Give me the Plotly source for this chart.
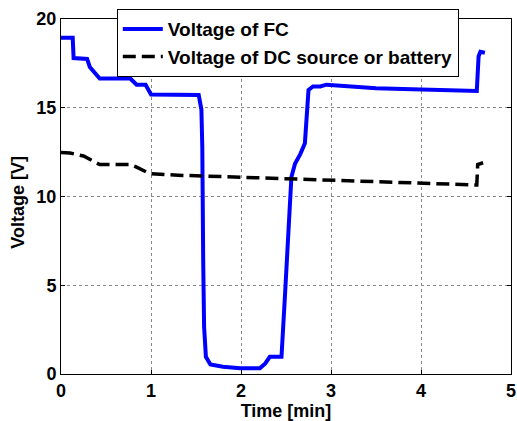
import plotly.graph_objects as go

# Voltage of FC (blue)
fc_t = [0.0, 0.13, 0.14, 0.22, 0.29, 0.32, 0.38, 0.43, 0.60, 0.77, 0.84, 0.94, 1.00, 1.20, 1.40, 1.53,
        1.56, 1.57, 1.58, 1.59, 1.61, 1.66, 1.80, 1.99, 2.21, 2.27, 2.32, 2.45, 2.49, 2.53, 2.56, 2.60,
        2.66, 2.71, 2.73, 2.75, 2.80, 2.88, 2.95, 3.2, 3.5, 3.8, 4.1, 4.4, 4.62, 4.64, 4.66, 4.71]
fc_v = [18.95, 18.95, 17.8, 17.75, 17.75, 17.3, 16.9, 16.65, 16.65, 16.65, 16.3, 16.3, 15.75, 15.75, 15.72, 15.72,
        14.9, 12.8, 6.4, 2.66, 0.97, 0.54, 0.41, 0.32, 0.32, 0.6, 0.97, 0.97, 4.55, 8.3, 11.1, 11.85,
        12.4, 13.0, 14.9, 16.0, 16.2, 16.2, 16.3, 16.2, 16.1, 16.05, 16.0, 15.98, 15.95, 17.9, 18.15, 18.1]

# Voltage of DC source or battery (black dashed)
dc_t = [0.0, 0.10, 0.25, 0.32, 0.43, 0.60, 0.77, 0.84, 0.99, 1.3, 1.6, 1.99, 2.43, 2.99, 3.54, 4.1, 4.62, 4.63, 4.69]
dc_v = [12.48, 12.45, 12.28, 12.1, 11.8, 11.8, 11.8, 11.65, 11.28, 11.2, 11.15, 11.1, 11.0, 10.95, 10.85, 10.75, 10.65, 11.8, 11.9]

x_ticks = [0, 1, 2, 3, 4, 5]
y_ticks = [0, 5, 10, 15, 20]

fig = go.Figure()
fig.add_trace(go.Scatter(x=fc_t, y=fc_v, mode="lines", name="Voltage of FC",
                         line=dict(color="#0000ff", width=4)))
fig.add_trace(go.Scatter(x=dc_t, y=dc_v, mode="lines", name="Voltage of DC source or battery",
                         line=dict(color="black", width=3.5, dash="13px,6px")))

font = "Arial, Liberation Sans, sans-serif"
bold = dict(family=font, size=18, color="black", weight="bold")
axis_common = dict(showline=True, linecolor="black", linewidth=1, mirror="ticks",
                   ticks="inside", ticklen=4, tickcolor="black",
                   showgrid=True, gridcolor="#888888", griddash="dot", gridwidth=1,
                   zeroline=False, automargin=False,
                   tickfont=bold)

fig.update_layout(
    width=517, height=421,
    margin=dict(l=61, r=6, t=19, b=47),
    paper_bgcolor="white", plot_bgcolor="white",
    xaxis=dict(range=[0, 5], tickvals=x_ticks, **axis_common,
               title=dict(text="Time [min]", font=bold)),
    yaxis=dict(range=[0, 20], tickvals=y_ticks, **axis_common),
    legend=dict(x=0.124, y=1.028, xanchor="left", yanchor="top",
                bgcolor="white", bordercolor="black", borderwidth=1,
                font=dict(family=font, size=19, color="black", weight="bold"),
                tracegroupgap=0, itemwidth=40),
    annotations=[dict(text="Voltage [V]", xref="paper", yref="paper", x=-0.096, y=0.485,
                      xanchor="center", yanchor="middle", textangle=-90, showarrow=False,
                      font=bold)],
    showlegend=True,
)

fig.write_html("out.html", config={"displayModeBar": False},
               post_script="document.body.style.margin='0';document.body.style.overflow='hidden';")
